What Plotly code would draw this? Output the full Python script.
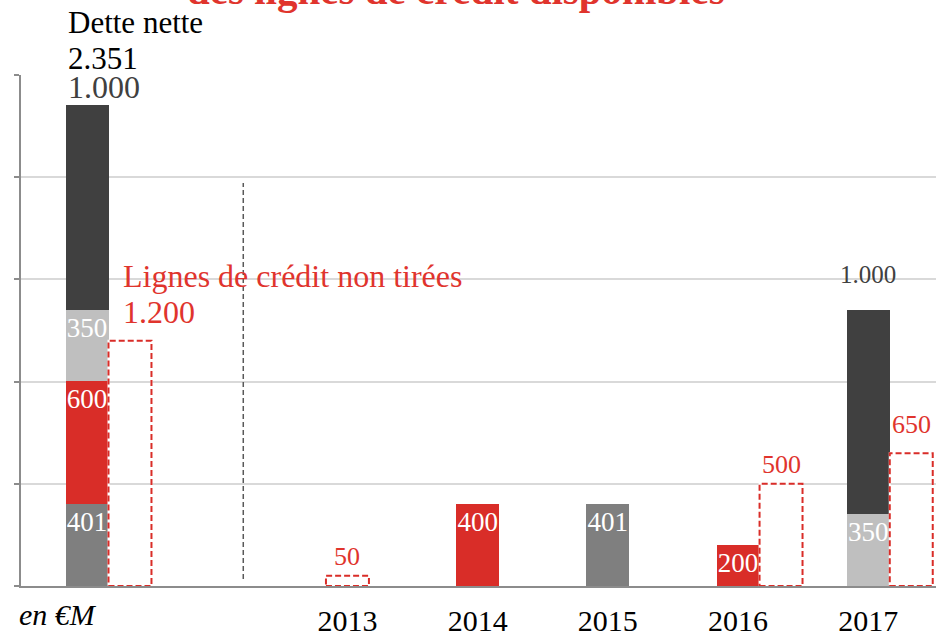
import plotly.graph_objects as go

# ---------------- data ----------------
categories = ["Dette nette", "", "2013", "2014", "2015", "2016", "2017"]
debt_gray = [401, None, None, None, 401, None, None]
debt_red = [600, None, None, 400, None, 200, None]
debt_light = [350, None, None, None, None, None, 350]
debt_dark = [1000, None, None, None, None, None, 1000]
credit_lines = [1200, None, 50, None, None, 500, 650]

title_text = "des lignes de crédit disponibles"
debt_label = "Dette nette"
credit_label = "Lignes de crédit non tirées"
unit_label = "en €M"

# ---------------- style ----------------
SERIF = "Liberation Serif, Times New Roman, serif"
C_GRAY = "#7f7f7f"
C_RED = "#d92d28"
C_LIGHT = "#bfbfbf"
C_DARK = "#404040"
C_TXT_RED = "#e0342d"
W = 0.33  # bar width in category units

W_PX, H_PX = 942, 632
M_L, M_R, M_T, M_B = 21, 6, 75, 46
PLOT_H = H_PX - M_T - M_B


def fmt(v):
    return f"{v:,}".replace(",", ".")


def py(px_y):
    """pixel y (from top of page) -> paper y"""
    return (H_PX - M_B - px_y) / PLOT_H


positions = list(range(len(categories)))


def stack_total(i):
    return sum((s[i] or 0) for s in (debt_gray, debt_red, debt_light, debt_dark))


fig = go.Figure()

for vals, col, show_text in [
    (debt_gray, C_GRAY, True),
    (debt_red, C_RED, True),
    (debt_light, C_LIGHT, True),
    (debt_dark, C_DARK, False),
]:
    fig.add_trace(go.Bar(
        x=positions, y=vals, width=W,
        marker=dict(color=col, line=dict(width=0)),
        text=[fmt(v) if (v and show_text) else "" for v in vals],
        textposition="inside", insidetextanchor="end",
        constraintext="none", textangle=0,
        textfont=dict(family=SERIF, size=27, color="white"),
        hoverinfo="skip", showlegend=False,
    ))

shapes = []
annotations = []

# dashed credit-line boxes (drawn from data values)
credit_label_dy = {6: 29}
for i, v in enumerate(credit_lines):
    if v is None:
        continue
    has_debt = stack_total(i) > 0
    cx = positions[i] + (W if has_debt else 0)
    x0, x1 = cx - W / 2, cx + W / 2
    shapes.append(dict(type="rect", xref="x", yref="y", x0=x0, x1=x1, y0=0, y1=v,
                       line=dict(color="white", width=2), layer="above"))
    shapes.append(dict(type="rect", xref="x", yref="y", x0=x0, x1=x1, y0=0, y1=v,
                       line=dict(color=C_RED, width=2, dash="6px,3px"), layer="above"))
    if i == 0:
        annotations.append(dict(x=x0, y=v, xref="x", yref="y", text=fmt(v),
                                xanchor="left", yanchor="middle", xshift=12, yshift=29,
                                showarrow=False,
                                font=dict(family=SERIF, size=32, color=C_TXT_RED)))
        annotations.append(dict(x=x0, y=v, xref="x", yref="y", text=credit_label,
                                xanchor="left", yanchor="middle", xshift=12, yshift=65,
                                showarrow=False,
                                font=dict(family=SERIF, size=32, color=C_TXT_RED)))
    else:
        annotations.append(dict(x=cx, y=v, xref="x", yref="y", text=fmt(v),
                                xanchor="center", yanchor="middle",
                                yshift=credit_label_dy.get(i, 19),
                                showarrow=False,
                                font=dict(family=SERIF, size=26, color=C_TXT_RED)))

# dark-bar value labels
for i, v in enumerate(debt_dark):
    if v is None:
        continue
    tot = stack_total(i)
    if i == 0:
        annotations.append(dict(x=positions[i] - W / 2, y=tot, xref="x", yref="y",
                                text=fmt(v), xanchor="left", yanchor="middle",
                                yshift=18, showarrow=False,
                                font=dict(family=SERIF, size=32, color=C_DARK)))
    else:
        annotations.append(dict(x=positions[i], y=tot, xref="x", yref="y",
                                text=fmt(v), xanchor="center", yanchor="middle",
                                yshift=36, showarrow=False,
                                font=dict(family=SERIF, size=25, color=C_DARK)))

# header texts
annotations.append(dict(x=positions[0] - W / 2, y=py(22), xref="x", yref="paper",
                        text=debt_label, xanchor="left", yanchor="middle",
                        showarrow=False, font=dict(family=SERIF, size=31, color="black")))
annotations.append(dict(x=positions[0] - W / 2, y=py(58), xref="x", yref="paper",
                        text=fmt(stack_total(0)), xanchor="left", yanchor="middle",
                        showarrow=False, font=dict(family=SERIF, size=31, color="black")))
annotations.append(dict(x=0.475, y=1, xref="paper", yref="paper",
                        text="<b>" + title_text + "</b>", xanchor="center", yanchor="bottom",
                        yshift=M_T - 15,
                        showarrow=False, font=dict(family=SERIF, size=41, color=C_TXT_RED)))
annotations.append(dict(x=0, y=py(614), xref="paper", yref="paper",
                        text="<i>" + unit_label + "</i>", xanchor="left", yanchor="middle",
                        xshift=-4, showarrow=False,
                        font=dict(family=SERIF, size=30, color="black")))

# vertical separator between total and maturities
shapes.append(dict(type="line", xref="x", yref="paper", x0=1.2, x1=1.2,
                   y0=py(579), y1=py(183),
                   line=dict(color="#595959", width=1.5, dash="5px,3px")))

fig.update_layout(
    width=W_PX, height=H_PX,
    margin=dict(l=M_L, r=M_R, t=M_T, b=M_B, pad=0, autoexpand=False),
    barmode="stack",
    plot_bgcolor="white", paper_bgcolor="white",
    shapes=shapes, annotations=annotations,
    xaxis=dict(
        type="linear", range=[-0.507, 6.52], automargin=False,
        tickvals=positions[2:], ticktext=categories[2:],
        showgrid=False, zeroline=False,
        showline=True, linecolor="#8c8c8c", linewidth=2,
        ticks="", ticklabelstandoff=7,
        tickfont=dict(family=SERIF, size=30, color="black"),
    ),
    yaxis=dict(
        range=[0, 2500], dtick=500, tick0=0, automargin=False,
        showgrid=True, gridcolor="#d9d9d9", gridwidth=2,
        zeroline=False, showline=True, linecolor="#8c8c8c", linewidth=2,
        ticks="outside", ticklen=5, tickwidth=2, tickcolor="#8c8c8c",
        showticklabels=False,
    ),
)

fig.write_html("out.html", config={"displayModeBar": False},
               post_script="document.body.style.margin='0';")
